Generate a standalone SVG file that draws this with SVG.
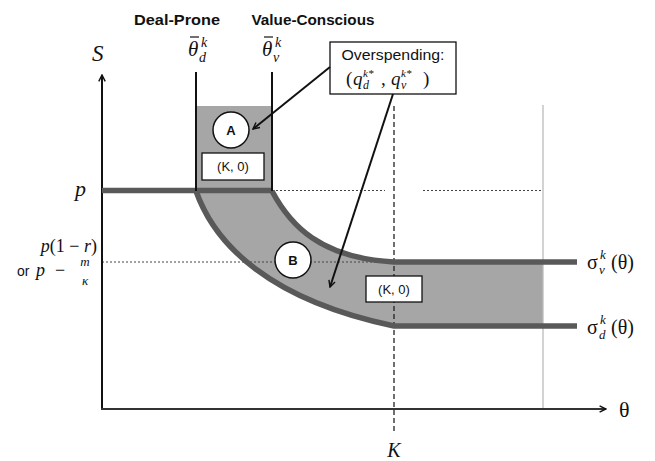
<svg xmlns="http://www.w3.org/2000/svg" width="655" height="461" viewBox="0 0 655 461">
<defs>
<style>
.sans{font-family:"Liberation Sans","DejaVu Sans",sans-serif;fill:#111}
.bold{font-weight:bold}
.math{font-family:"Liberation Serif","DejaVu Serif",serif;fill:#111}
.it{font-style:italic}
.curve{fill:none;stroke:#595959;stroke-width:5.5}
.dot{stroke:#444;stroke-width:1;stroke-dasharray:2 2;fill:none}
.blk{stroke:#111;stroke-width:2;fill:none}
.box{fill:#fff;stroke:#111;stroke-width:1.3}
</style>
<marker id="ah" viewBox="0 0 10 10" refX="9" refY="5" markerWidth="8" markerHeight="8" orient="auto" markerUnits="userSpaceOnUse">
<path d="M1,1 L9,5 L1,9" fill="none" stroke="#111" stroke-width="1.8"/>
</marker>
</defs>
<rect width="655" height="461" fill="#fff"/>

<g id="regions">
<rect x="196" y="106" width="76" height="85" fill="#a6a6a6"/>
<path d="M196,191 L272,191 C290,225 320,258 394,262 L543,262 L543,326 L394,326 C270,300 215,245 196,191 Z" fill="#a6a6a6"/>
</g>

<g id="guides">
<line class="dot" x1="272" y1="190.5" x2="385" y2="190.5"/>
<line class="dot" x1="423" y1="190.5" x2="543" y2="190.5"/>
<line class="dot" x1="102" y1="262" x2="394" y2="262"/>
<line x1="394" y1="106" x2="394" y2="434" stroke="#222" stroke-width="1.3" stroke-dasharray="5 3"/>
<line x1="543" y1="105" x2="543" y2="409" stroke="#bbb" stroke-width="1.3"/>
</g>

<g id="axes">
<line x1="102" y1="409" x2="102" y2="75" stroke="#111" stroke-width="2" marker-end="url(#ah)"/>
<line x1="101" y1="409" x2="606" y2="409" stroke="#333" stroke-width="2" marker-end="url(#ah)"/>
</g>

<g id="curves">
<line class="curve" x1="102" y1="190.5" x2="272" y2="190.5"/>
<path class="curve" d="M272,191 C290,225 320,258 394,262 L577,262"/>
<path class="curve" d="M196,191 C215,245 270,300 394,326 L577,326"/>
</g>

<g id="thresholds">
<line class="blk" x1="196" y1="72" x2="196" y2="191"/>
<line class="blk" x1="272" y1="72" x2="272" y2="191"/>
</g>

<g id="nodeA">
<circle cx="231" cy="130" r="18" fill="#fff" stroke="#111" stroke-width="1.5"/>
<text class="sans bold" x="231" y="135" font-size="13" text-anchor="middle">A</text>
<rect class="box" x="202" y="153" width="62" height="27"/>
<text class="sans" x="233" y="171" font-size="13" text-anchor="middle">(K, 0)</text>
</g>

<g id="nodeB">
<circle cx="293" cy="260" r="18" fill="#fff" stroke="#111" stroke-width="1.5"/>
<text class="sans bold" x="293" y="265" font-size="13" text-anchor="middle">B</text>
<rect class="box" x="366" y="276" width="56" height="26" stroke-width="0.8"/>
<text class="sans" x="394" y="294" font-size="13" text-anchor="middle">(K, 0)</text>
</g>

<g id="overspending">
<rect class="box" x="330" y="42" width="126" height="52"/>
<text class="sans" x="393" y="60" font-size="15" text-anchor="middle" textLength="103" lengthAdjust="spacingAndGlyphs">Overspending:</text>
<text class="math" x="346" y="85" font-size="19">(</text>
<text class="math it" x="353" y="85" font-size="19">q</text>
<text class="math it" x="363" y="89" font-size="12">d</text>
<text class="math it" x="363" y="77" font-size="11">k*</text>
<text class="math" x="381" y="85" font-size="19">,</text>
<text class="math it" x="391" y="85" font-size="19">q</text>
<text class="math it" x="401" y="89" font-size="12">v</text>
<text class="math it" x="401" y="77" font-size="11">k*</text>
<text class="math" x="423" y="85" font-size="19">)</text>
</g>

<g id="connectors">
<line x1="330" y1="67" x2="253" y2="129" stroke="#111" stroke-width="2" marker-end="url(#ah)"/>
<line x1="393" y1="94" x2="330" y2="287" stroke="#111" stroke-width="2" marker-end="url(#ah)"/>
</g>

<g id="labels">
<text class="sans bold" x="177" y="25" font-size="15" text-anchor="middle" textLength="86" lengthAdjust="spacingAndGlyphs">Deal-Prone</text>
<text class="sans bold" x="313" y="25" font-size="15" text-anchor="middle" textLength="123" lengthAdjust="spacingAndGlyphs">Value-Conscious</text>

<text class="math it" x="188" y="56" font-size="21">θ</text>
<line x1="190" y1="37" x2="199" y2="37" stroke="#111" stroke-width="1.2"/>
<text class="math it" x="199" y="62" font-size="14">d</text>
<text class="math it" x="201" y="47" font-size="14">k</text>

<text class="math it" x="262" y="56" font-size="21">θ</text>
<line x1="264" y1="37" x2="273" y2="37" stroke="#111" stroke-width="1.2"/>
<text class="math it" x="273" y="62" font-size="14">v</text>
<text class="math it" x="275" y="47" font-size="14">k</text>

<text class="math it" x="92" y="61" font-size="23">S</text>
<text class="math it" x="75" y="196" font-size="22">p</text>

<text class="math" x="97" y="252" font-size="18" text-anchor="end"><tspan font-style="italic">p</tspan>(1 − <tspan font-style="italic">r</tspan>)</text>
<text class="sans" x="17" y="276" font-size="14">or</text>
<text class="math it" x="36" y="276" font-size="18">p</text>
<text class="math" x="55" y="276" font-size="18">−</text>
<text class="math it" x="85" y="266" font-size="13" text-anchor="middle">m</text>
<text class="math it" x="85" y="285" font-size="13" text-anchor="middle">κ</text>

<text class="math" x="587" y="269" font-size="20">σ</text>
<text class="math it" x="599" y="274" font-size="13">v</text>
<text class="math it" x="600" y="259" font-size="13">k</text>
<text class="math" x="611" y="269" font-size="20">(θ)</text>

<text class="math" x="587" y="334" font-size="20">σ</text>
<text class="math it" x="599" y="339" font-size="13">d</text>
<text class="math it" x="600" y="324" font-size="13">k</text>
<text class="math" x="611" y="334" font-size="20">(θ)</text>

<text class="math" x="619" y="417" font-size="22">θ</text>
<text class="math it" x="394" y="457" font-size="20" text-anchor="middle">K</text>
</g>
</svg>
